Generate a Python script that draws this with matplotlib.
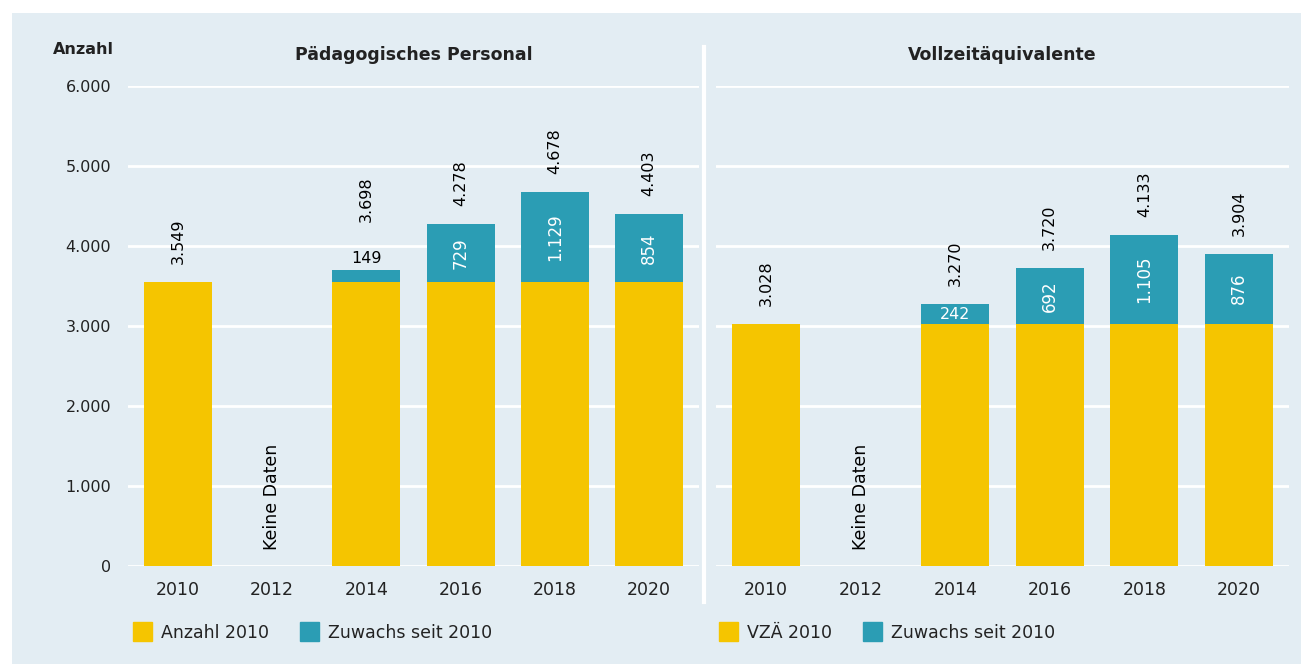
import numpy as np
import matplotlib
matplotlib.use("Agg")
from matplotlib import pyplot as plt
from matplotlib.patches import Rectangle, Patch
from matplotlib.lines import Line2D

years = ["2010", "2012", "2014", "2016", "2018", "2020"]

# Pädagogisches Personal
pers_base = [3549, 0, 3549, 3549, 3549, 3549]
pers_growth = [0, 0, 149, 729, 1129, 854]
pers_total = [3549, None, 3698, 4278, 4678, 4403]

# Vollzeitäquivalente
vza_base = [3028, 0, 3028, 3028, 3028, 3028]
vza_growth = [0, 0, 242, 692, 1105, 876]
vza_total = [3028, None, 3270, 3720, 4133, 3904]

yticks = [0, 1000, 2000, 3000, 4000, 5000, 6000]

YELLOW = "#F5C500"
TEAL = "#2B9DB4"
BG = "#E3EDF3"
TXT = "#222222"

plt.rcParams["font.family"] = ["DejaVu Sans"]


def fmt(v):
    return "{:,}".format(v).replace(",", ".")


fig = plt.figure(figsize=(13.01, 6.64), dpi=100)
fig.patch.set_facecolor("white")
fig.add_artist(Rectangle((12 / 1301, 0), 1, 1 - 13 / 664, transform=fig.transFigure,
                         facecolor=BG, edgecolor="none", zorder=-10))

ax1 = fig.add_axes([128 / 1301, 1 - 566 / 664, (699 - 128) / 1301, 480 / 664])
ax2 = fig.add_axes([716 / 1301, 1 - 566 / 664, (1289 - 716) / 1301, 480 / 664])


def draw(ax, base, growth, total, title, show_y):
    x = np.arange(len(years))
    ax.set_facecolor("none")
    for s in ax.spines.values():
        s.set_visible(False)
    for t in yticks:
        ax.axhline(t, color="white", lw=2, zorder=0)
    ax.bar(x, base, width=0.72, color=YELLOW, zorder=2)
    ax.bar(x, growth, width=0.72, bottom=base, color=TEAL, zorder=2)
    ax.set_xlim(-0.53, 5.53)
    ax.set_ylim(0, 6000)
    ax.set_xticks(x)
    ax.set_xticklabels(years, fontsize=12.5, color=TXT)
    ax.set_yticks(yticks)
    if show_y:
        ax.set_yticklabels([fmt(t) for t in yticks], fontsize=11.5, color=TXT)
    else:
        ax.set_yticklabels([])
    ax.tick_params(length=0, axis="y", pad=12)
    ax.tick_params(length=0, axis="x", pad=11)
    for i in range(len(years)):
        if total[i] is None:
            ax.text(x[i], 200, "Keine Daten", rotation=90, ha="center", va="bottom",
                    fontsize=12.5, color="black")
            continue
        g = growth[i]
        above = 0 < g < 200
        ax.annotate(fmt(total[i]), (x[i], total[i]), xytext=(0, 35 if above else 13),
                    textcoords="offset points", rotation=90, ha="center", va="bottom",
                    fontsize=11.5, color="black", annotation_clip=False)
        if g == 0:
            continue
        mid = base[i] + g / 2
        if above:
            ax.annotate(fmt(g), (x[i], base[i] + g), xytext=(0, 3),
                        textcoords="offset points", ha="center", va="bottom",
                        fontsize=11.5, color="black")
        elif g < 300:
            ax.text(x[i], mid, fmt(g), ha="center", va="center", fontsize=11.5,
                    color="white")
        else:
            ax.text(x[i], mid, fmt(g), rotation=90, ha="center", va="center",
                    fontsize=12, color="white")
    ax.text(0.5, 1.065, title, transform=ax.transAxes, ha="center", va="center",
            fontsize=12.5, fontweight="bold", color=TXT)


draw(ax1, pers_base, pers_growth, pers_total, "Pädagogisches Personal", True)
draw(ax2, vza_base, vza_growth, vza_total, "Vollzeitäquivalente", False)

fig.text(114 / 1301, 1 - 50 / 664, "Anzahl", ha="right", va="center", fontsize=11.5,
         color=TXT, fontweight="bold")

# separator between panels
fig.add_artist(Line2D([704 / 1301, 704 / 1301], [1 - 602 / 664, 1 - 47 / 664],
                      transform=fig.transFigure, color="white", lw=3))

leg_kw = dict(frameon=False, ncol=2, fontsize=12.5, handlelength=1.1, handleheight=1.3,
              handletextpad=0.5, columnspacing=1.8, loc="center left", borderaxespad=0)
l1 = fig.legend(handles=[Patch(color=YELLOW, label="Anzahl 2010"),
                         Patch(color=TEAL, label="Zuwachs seit 2010")],
                bbox_to_anchor=(126 / 1301, 1 - 632 / 664), **leg_kw)
for t in l1.get_texts():
    t.set_color(TXT)
l2 = fig.legend(handles=[Patch(color=YELLOW, label="VZÄ 2010"),
                         Patch(color=TEAL, label="Zuwachs seit 2010")],
                bbox_to_anchor=(712 / 1301, 1 - 632 / 664), **leg_kw)
for t in l2.get_texts():
    t.set_color(TXT)

fig.savefig("out.png", dpi=100, facecolor=fig.get_facecolor())
